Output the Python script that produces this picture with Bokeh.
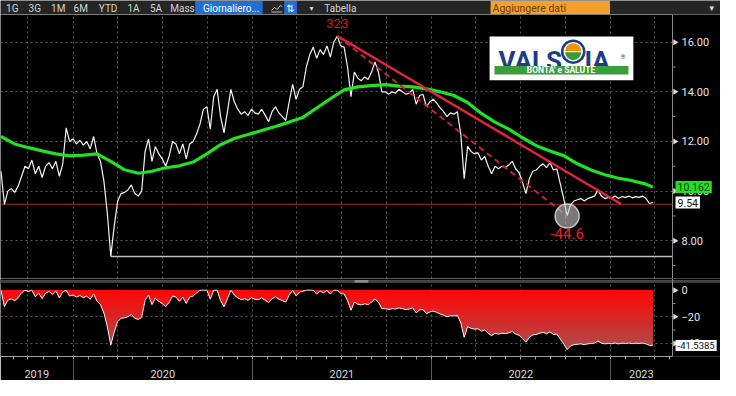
import numpy as np
import pandas as pd
from bokeh.plotting import figure
from bokeh.layouts import column
from bokeh.models import (FixedTicker, Range1d, Grid, Label, Span, BoxAnnotation,
                          NumeralTickFormatter, CustomJSTickFormatter, LinearAxis)
from bokeh.embed import file_html
from bokeh.resources import INLINE
from bokeh.core.properties import value

# ---------------- data ----------------
start_date = "2019-08-07"          # first weekly close
price = [10.8, 9.47, 10.0, 10.1, 9.95, 10.2, 10.6, 11.0, 10.9, 11.25,
         10.7, 11.0, 10.55, 11.0, 11.15, 10.9, 11.2, 10.6, 11.1, 12.55,
         12.0, 12.1, 11.9, 12.05, 11.85, 12.0, 11.7, 12.2, 11.5, 11.2,
         10.4, 9.1, 7.37, 8.6, 9.6, 9.9, 9.95, 10.05, 10.25, 9.9,
         9.8, 10.0, 11.6, 12.1, 11.2, 11.8, 11.5, 11.3, 11.0, 11.4,
         12.0, 11.9, 11.5, 11.9, 11.3, 11.9, 12.0, 12.3, 12.7, 13.3,
         13.4, 12.5, 13.8, 14.1, 13.0, 12.35, 13.2, 14.1, 13.6, 13.3,
         13.1, 13.2, 13.05, 13.3, 13.15, 13.1, 13.3, 13.05, 12.8, 13.2,
         13.4, 13.15, 13.0, 12.85, 13.6, 14.3, 13.7, 14.1, 14.2, 15.0,
         15.5, 15.8, 15.35, 15.7, 15.5, 15.85, 15.4, 16.0, 16.25, 15.85,
         15.8, 15.0, 13.8, 14.8, 14.55, 14.45, 14.6, 14.5, 14.8, 15.2,
         14.8, 14.0, 14.0, 13.9, 14.0, 13.95, 14.1, 14.0, 13.9, 13.95,
         14.1, 13.5, 13.85, 13.9, 13.4, 13.6, 13.7, 13.55, 13.35, 13.2,
         13.0, 13.15, 13.1, 13.2, 12.3, 10.5, 11.8, 11.6, 11.5, 11.55,
         11.25, 11.4, 11.0, 10.7, 11.0, 10.9, 11.0, 10.95, 11.05, 11.2,
         10.9, 10.75, 10.35, 9.9, 10.5, 10.8, 10.85, 11.0, 11.1, 10.95,
         11.15, 10.85, 10.9, 10.3, 9.7, 9.0, 9.45, 9.6, 9.65, 9.7,
         9.6, 9.7, 9.75, 9.8, 10.05, 9.8, 9.7, 9.75, 9.72, 9.8,
         9.7, 9.78, 9.75, 9.8, 9.73, 9.78, 9.75, 9.8, 9.7, 9.5,
         9.54]
# 200-day moving average, one reading every 4 weeks plus the last day
ma_200 = [12.2, 11.9, 11.75, 11.62, 11.5, 11.42, 11.45, 11.5, 11.2, 10.86,
          10.72, 10.8, 10.94, 11.02, 11.17, 11.5, 11.87, 12.12, 12.28, 12.44,
          12.6, 12.78, 12.97, 13.35, 13.72, 14.08, 14.2, 14.25, 14.29, 14.23,
          14.2, 14.12, 14.0, 13.85, 13.57, 13.13, 12.78, 12.5, 12.15, 11.83,
          11.62, 11.43, 11.1, 10.85, 10.66, 10.52, 10.42, 10.28, 10.162]
support_level = 9.47
trend_end_date = "2023-01-23"
trend_end_value = 9.48
peak_label = "323"
last_price_label = "9.54"
last_ma_label = "10.162"
last_dd_value = -41.5385
last_dd_label = "-41.5385"
price_ticks = [8, 10, 12, 14, 16]
price_minor = [7, 9, 11, 13, 15]
dd_ticks = [-40, -20, 0]
dd_minor = [-30, -10]
years = [2019, 2020, 2021, 2022, 2023]
toolbar_buttons = ["1G", "3G", "1M", "6M", "YTD", "1A", "5A", "Mass"]
toolbar_button_x = [12, 35, 59, 82, 110, 136, 159, 186]

FONT = "Roboto"


def ms(d):
    return pd.Timestamp(d).value / 1e6


W_DATA, W_TOTAL = 672, 720
X0, X1 = ms("2019-08-06"), ms("2023-05-08")
DX = (X1 - X0) / W_DATA                      # one screen pixel in x data units
X_EXT = X0 + W_TOTAL * DX                    # frame also covers the value-label zone
Y_TOP, Y_BOT = 17.115, 6.48


def px2x(px):  # reference-picture pixel -> data (decorations only)
    return X0 + px / 687.0 * (X1 - X0)


def py2y(py):
    return Y_TOP - (py - 14) / 277.0 * (Y_TOP - Y_BOT)


price_a = np.array(price)
weeks = pd.date_range(start_date, periods=len(price), freq="7D")
weeks_ms = np.array([ms(d) for d in weeks])
ma_idx = list(range(0, len(price) - 1, 4)) + [len(price) - 1]
ma_ms = weeks_ms[ma_idx]
dd = (price_a / np.maximum.accumulate(price_a) - 1.0) * 100.0

i_peak = int(np.argmax(price_a))
i_trough = i_peak + int(np.argmin(price_a[i_peak:]))
i_low = int(np.argmin(price_a))
peak_ms, peak_v = weeks_ms[i_peak], price_a[i_peak]
trough_ms, trough_v = weeks_ms[i_trough], price_a[i_trough]
dd_text = f"{(trough_v / peak_v - 1) * 100:.1f}"

quarters = [ms(d) for d in pd.date_range("2019-10-01", "2023-04-01", freq="QS")]
months = [ms(d) for d in pd.date_range("2019-09-01", "2023-05-01", freq="MS")]
jan1 = [ms(f"{y}-01-01") for y in years[1:]]
year_mid = []
for y in years:
    a = max(X0, ms(f"{y}-01-01"))
    b = min(X1, ms(f"{y + 1}-01-01"))
    year_mid.append((a + b) / 2)

xr = Range1d(X0, X_EXT)
GRID_C = "#5a5a5a"
AXIS_C = "#8a8a8a"


def style_value_axis(fig, ax, ticks, minor):
    """Right-hand value axis: labels from Bokeh's axis, pulled into the label zone."""
    ax.ticker = FixedTicker(ticks=ticks, minor_ticks=minor)
    ax.axis_line_color = None
    ax.major_tick_line_color = None
    ax.minor_tick_line_color = None
    ax.major_tick_out = 0
    ax.minor_tick_out = 0
    ax.major_tick_in = 0
    ax.minor_tick_in = 0
    ax.major_label_standoff = -39
    ax.major_label_text_color = "#e4e4e4"
    ax.major_label_text_font = FONT
    ax.major_label_text_font_size = "11px"
    # hide grid lines in the label zone, draw the axis rule and tick marks
    fig.add_layout(BoxAnnotation(left=X1, fill_color="black", fill_alpha=1.0,
                                 line_color=None, level="underlay"))
    fig.add_layout(Span(location=X1, dimension="height", line_color=AXIS_C,
                        line_width=1))
    fig.scatter([X1 + 2.5 * DX] * len(ticks), ticks, marker="triangle",
                angle=-np.pi / 2, size=6, fill_color="#dcdcdc", line_color=None)
    fig.segment(x0=[X1] * len(minor), x1=[X1 + 3 * DX] * len(minor), y0=minor,
                y1=minor, line_color=AXIS_C, line_width=1)


def value_box(fig, y, text, bg, fg, size):
    fig.add_layout(Label(x=X1, y=y, text=text, x_offset=3, text_baseline="middle",
                         text_font=FONT, text_font_size=size, text_color=fg,
                         background_fill_color=bg, padding=2))


# ---------------- toolbar ----------------
tb = figure(frame_width=W_TOTAL, frame_height=14, x_range=Range1d(0, 736),
            y_range=Range1d(14, 0), x_axis_location=None, y_axis_location=None,
            toolbar_location=None, output_backend="svg", min_border=0,
            background_fill_color="#252525", border_fill_color="#252525",
            outline_line_color=None)
tb.grid.visible = False
tb.text(x=toolbar_button_x, y=[7.5] * len(toolbar_buttons), text=toolbar_buttons,
        text_font=value(FONT), text_font_size=value("10px"), text_color="#d4d4d4",
        text_align="center", text_baseline="middle")
tb.quad(left=[199], right=[268], top=[0.5], bottom=[13.5], fill_color="#1f6fd6",
        line_color=None)
tb.text(x=[207], y=[7.5], text=["Giornaliero..."], text_font=value(FONT),
        text_font_size=value("10px"), text_color="white", text_baseline="middle")
tb.line(x=[277, 280, 283, 286, 288], y=[10, 7, 9, 5, 6], line_color="#bfbfbf", line_width=1)
tb.line(x=[277, 288], y=[11.5, 11.5], line_color="#bfbfbf", line_width=1)
tb.quad(left=[290], right=[303], top=[0.5], bottom=[13.5], fill_color="#1f6fd6",
        line_color=None)
tb.text(x=[296.5], y=[7.5], text=["⇅"], text_font=value("DejaVu Sans"),
        text_font_size=value("10px"), text_color="white", text_align="center",
        text_baseline="middle")
tb.text(x=[318], y=[7.5], text=["▾"], text_font=value("DejaVu Sans"),
        text_font_size=value("8px"), text_color="#d4d4d4", text_align="center",
        text_baseline="middle")
tb.text(x=[331], y=[7.5], text=["Tabella"], text_font=value(FONT),
        text_font_size=value("10px"), text_color="#d4d4d4", text_baseline="middle")
tb.quad(left=[501], right=[623], top=[0.5], bottom=[14], fill_color="#f5a02c",
        line_color=None)
tb.text(x=[503], y=[7.5], text=["Aggiungere dati"], text_font=value(FONT),
        text_font_size=value("10.5px"), text_color="#6a3c00", text_baseline="middle")
tb.text(x=[727], y=[7.5], text=["▾"], text_font=value("DejaVu Sans"),
        text_font_size=value("9px"), text_color="#e0e0e0", text_align="center",
        text_baseline="middle")

# ---------------- price panel ----------------
p = figure(frame_width=W_TOTAL, frame_height=264, x_range=xr,
           y_range=Range1d(Y_BOT, Y_TOP), x_axis_type="datetime",
           x_axis_location=None, y_axis_location="right", toolbar_location=None,
           output_backend="svg", background_fill_color="black",
           border_fill_color="black", outline_line_color=None,
           min_border_left=0, min_border_right=0, min_border_top=0,
           min_border_bottom=0)
for g in p.xgrid:
    g.visible = False
p.add_layout(Grid(dimension=0, ticker=FixedTicker(ticks=quarters),
                  grid_line_color=GRID_C, grid_line_dash="2 3", grid_line_width=1))
ya = p.yaxis[0]
ya.formatter = NumeralTickFormatter(format="0.00")
p.ygrid.ticker = FixedTicker(ticks=price_ticks)
p.ygrid.grid_line_color = GRID_C
p.ygrid.grid_line_dash = "2 3"
style_value_axis(p, ya, price_ticks, price_minor)

p.segment(x0=[X0], y0=[support_level], x1=[X1], y1=[support_level],
          line_color="#a82a2a", line_width=1)
p.segment(x0=[weeks_ms[i_low]], y0=[price_a[i_low]], x1=[X1], y1=[price_a[i_low]],
          line_color="#bdbdbd", line_width=1.5)
p.line(weeks_ms, price_a, line_color="#f4f4f4", line_width=1.2)
p.line(ma_ms, ma_200, line_color="#22e022", line_width=3.2)
p.line([peak_ms, ms(trend_end_date)], [peak_v, trend_end_value], line_color="#e0243c",
       line_width=2.5)
p.line([peak_ms, trough_ms], [peak_v, trough_v], line_color="#d0202e", line_width=2,
       line_dash="6 4")
p.scatter([trough_ms], [trough_v], size=24, fill_color="#c8c8c8", fill_alpha=0.6,
          line_color="#e6e6e6", line_alpha=0.8, line_width=1.5)
p.text([trough_ms], [trough_v], text=[dd_text], text_font=value(FONT),
       text_font_size=value("15px"), text_color="#e8202a", text_align="center",
       text_baseline="top", y_offset=12)
p.text([peak_ms], [py2y(23)], text=[peak_label], text_font=value(FONT),
       text_font_size=value("13px"), text_color="#d01828", text_align="center",
       text_baseline="alphabetic")

# Valsoia logo
p.quad(left=[px2x(500)], right=[px2x(647)], top=[py2y(37)], bottom=[py2y(83)],
       fill_color="white", line_color=None)
p.text([px2x(574)], [py2y(63)], text=["VALS"], text_font=value("Roboto"),
       text_font_style="bold", text_font_size=value("26px"), text_color="#1d3c86",
       text_align="right", text_baseline="alphabetic")
p.text([px2x(597)], [py2y(63)], text=["IA"], text_font=value("Roboto"),
       text_font_style="bold", text_font_size=value("26px"), text_color="#1d3c86",
       text_align="left", text_baseline="alphabetic")
p.wedge([px2x(585.5)], [py2y(52.5)], radius=8, radius_units="screen",
        start_angle=0, end_angle=np.pi, fill_color="#f39200", line_color=None)
p.wedge([px2x(585.5)], [py2y(53.5)], radius=8, radius_units="screen",
        start_angle=np.pi, end_angle=2 * np.pi, fill_color="#3b9a36", line_color=None)
p.scatter([px2x(585.5)], [py2y(53)], size=22, fill_color=None, line_color="#1d3c86",
          line_width=2.5)
p.text([px2x(634)], [py2y(62)], text=["®"], text_font=value("Roboto"),
       text_font_size=value("6px"), text_color="#1d3c86")
p.quad(left=[px2x(505)], right=[px2x(642)], top=[py2y(68)], bottom=[py2y(77)],
       fill_color="#3a9e3a", line_color=None)
p.text([px2x(573)], [py2y(72.5)], text=["BONTA' e SALUTE"], text_font=value("Roboto"),
       text_font_style="bold", text_font_size=value("8.5px"), text_color="white",
       text_align="center", text_baseline="middle")

value_box(p, ma_200[-1], last_ma_label, "#22e022", "#0c3a0c", "10.5px")
value_box(p, price_a[-1], last_price_label, "white", "#111111", "10.5px")

# ---------------- drawdown panel (with the panel separator at its top) ----------------
DD_BOT, DD_ZERO_TOP = -49.8, 4.3
DD_PPU = 72 / (DD_ZERO_TOP - DD_BOT)         # pixels per percent point
DD_TOP = DD_ZERO_TOP + 6 / DD_PPU
q = figure(frame_width=W_TOTAL, frame_height=78, x_range=xr,
           y_range=Range1d(DD_BOT, DD_TOP), x_axis_type="datetime",
           y_axis_location="right", toolbar_location=None, output_backend="svg",
           background_fill_color="black", border_fill_color="black",
           outline_line_color=None, min_border_left=0, min_border_right=0,
           min_border_top=0, min_border_bottom=0)
q.xgrid.ticker = FixedTicker(ticks=quarters)
q.xgrid.grid_line_color = GRID_C
q.xgrid.grid_line_dash = "2 3"
q.ygrid.ticker = FixedTicker(ticks=[-40, -20])
q.ygrid.grid_line_color = GRID_C
q.ygrid.grid_line_dash = "2 3"
qa = q.yaxis[0]
style_value_axis(q, qa, dd_ticks, dd_minor)

n_band = 15
c0, c1 = np.array([255, 6, 6]), np.array([172, 78, 78])
for k in reversed(range(n_band)):
    lo = -3.0 * (k + 1)
    t = (k + 0.5) / n_band
    c = (c0 + (c1 - c0) * t).astype(int)
    q.varea(x=weeks_ms, y1=0.0, y2=np.clip(dd, lo, 0.0),
            fill_color="#%02x%02x%02x" % tuple(c), fill_alpha=1.0)
q.line(weeks_ms, dd, line_color="#f0f0f0", line_width=1)

# separator strip between the two panels
q.quad(left=[X0], right=[X_EXT], bottom=[DD_ZERO_TOP], top=[DD_TOP],
       fill_color="black", line_color=None)
q.quad(left=[X0], right=[X_EXT], bottom=[DD_TOP - 4.2 / DD_PPU],
       top=[DD_TOP - 1.6 / DD_PPU], fill_color="#474747", line_color=None)
q.quad(left=[px2x(362)], right=[px2x(376)], bottom=[DD_TOP - 4.2 / DD_PPU],
       top=[DD_TOP - 1.6 / DD_PPU], fill_color="#8c8c8c", line_color=None)

xa = q.xaxis[0]
xa.ticker = FixedTicker(ticks=year_mid, minor_ticks=months)
xa.formatter = CustomJSTickFormatter(code="return String(new Date(tick).getUTCFullYear());")
xa.bounds = (X0, X1)
xa.major_tick_in = 0
xa.major_tick_out = 0
xa.minor_tick_in = 0
xa.minor_tick_out = 3
xa.axis_line_color = "#a0a0a0"
xa.minor_tick_line_color = "#a0a0a0"
xa.major_label_standoff = 10
xa.major_label_text_color = "#d8d8d8"
xa.major_label_text_font = FONT
xa.major_label_text_font_size = "11px"

xb = LinearAxis(ticker=FixedTicker(ticks=jan1, minor_ticks=[]),
                formatter=CustomJSTickFormatter(code="return '';"),
                major_tick_in=21, major_tick_out=0, axis_line_color=None,
                major_tick_line_color="#5a5a5a", major_tick_line_width=1,
                major_label_text_font_size="1px", major_label_standoff=0)
q.add_layout(xb, "below")

value_box(q, last_dd_value, last_dd_label, "white", "#111111", "9.5px")

layout = column(tb, p, q, spacing=0)
open("out.html", "w").write(file_html(layout, INLINE))
